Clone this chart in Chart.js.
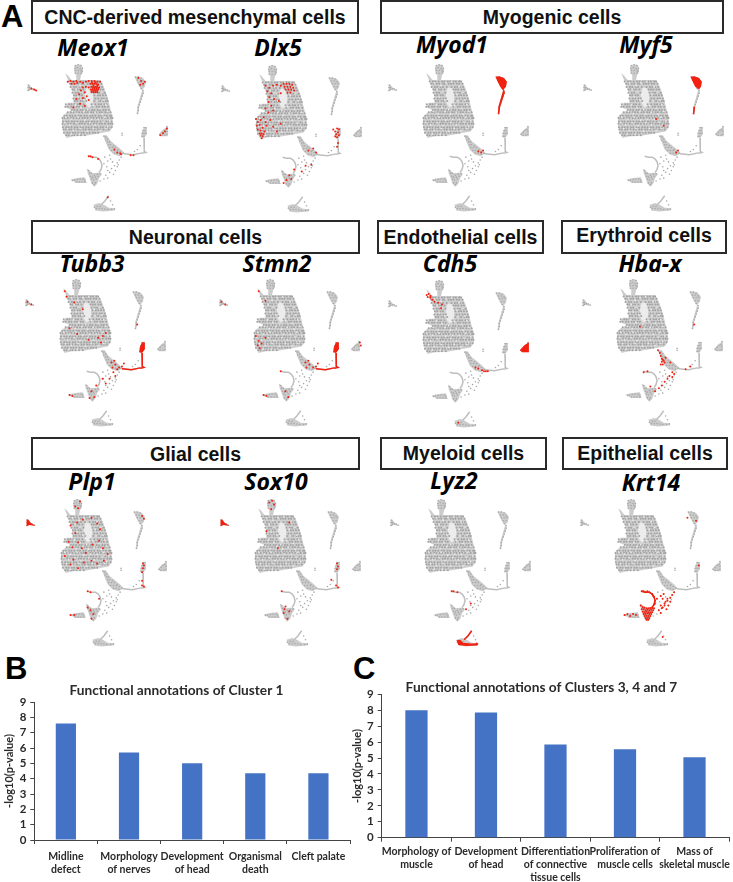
<!DOCTYPE html>
<html>
<head>
<meta charset="utf-8">
<script src="https://cdn.jsdelivr.net/npm/chart.js@4"></script>
<style>
  html, body { margin: 0; padding: 0; background: #fff; }
  #page { position: relative; width: 733px; height: 882px; overflow: hidden; }
  canvas { position: absolute; }
  .head { position: absolute; box-sizing: border-box; border: 2px solid #2a2a2a; background: #fff;
    font: bold 19.5px "Liberation Sans", sans-serif; color: #111; text-align: center; }
  .gene { position: absolute; width: 120px; text-align: center; color: #000;
    font: italic bold 23px "Noto Sans", sans-serif; }
  .letter { position: absolute; color: #000; font: bold 31px "Liberation Sans", sans-serif; }
</style>
</head>
<body>
<div id="page"></div>
<script>
// grey cells, in pixels of the Meox1 panel. rows are [y, x, x, x...]
const blobRows = [
  [78.5, 67, 70.5, 73, 76.5, 80, 82.5, 86, 88.5, 92, 94.5, 98, 100],
  [81, 68.5, 71, 74.5, 77, 81, 83, 87, 89.5, 92, 95.5, 98, 101.5],
  [84.5, 69, 72.5, 75, 78.5, 81, 85, 90, 93.5, 96, 99, 102],
  [87, 71, 73, 76.5, 79, 82.5, 92, 94.5, 97, 100.5, 103],
  [90.5, 71, 74.5, 77, 80, 83.5, 93, 96.5, 99, 102.5, 105],
  [93, 72.5, 75, 78.5, 81, 94, 97.5, 100, 103, 106],
  [96.5, 72, 75.5, 78, 81.5, 84, 95, 98, 101.5, 104, 107],
  [99, 73.5, 76, 79.5, 82, 85.5, 94, 97.5, 100, 103.5, 106, 108],
  [102.5, 64, 67.5, 70, 73, 76.5, 79, 82.5, 91, 95, 98.5, 101, 104.5, 107],
  [105, 63.5, 66, 69.5, 72, 75.5, 78, 81.5, 84, 92, 96.5, 99, 102.5, 105, 108.5],
  [108.5, 70.5, 73, 76, 79.5, 82, 85.5, 88, 91.5, 94, 97.5, 100, 103.5, 106, 109],
  [111, 66, 69.5, 72, 75.5, 78, 81, 84.5, 87, 90.5, 93, 96, 99.5, 102, 105.5, 108, 111],
  [114.5, 62.5, 65, 68.5, 71, 74, 77.5, 80, 83.5, 86, 89.5, 92, 95, 98.5, 101, 104.5, 107, 110.5, 112],
  [117, 60.5, 63, 66, 69.5, 72, 75.5, 78, 81.5, 84, 87, 90.5, 93, 96.5, 99, 102, 105.5, 108, 111.5, 113],
  [120.5, 61, 64.5, 67, 70.5, 73, 76, 79.5, 82, 85.5, 88, 91.5, 94, 97, 100.5, 103, 106.5, 109, 112],
  [123, 60.5, 63, 66.5, 69, 72.5, 75, 78.5, 81, 84, 87.5, 90, 93.5, 96, 99.5, 102, 105, 108.5, 111, 113],
  [126.5, 61, 64.5, 67, 70, 73.5, 76, 79.5, 82, 85.5, 88, 91, 94.5, 97, 100.5, 103, 106.5, 109, 112],
  [129, 61.5, 64, 67.5, 70, 73, 76.5, 79, 82.5, 85, 88.5, 91, 94, 97.5, 100, 103.5, 106, 109],
  [132.5, 62, 65.5, 68, 71.5, 74, 77, 80.5, 83, 86.5, 89, 92.5, 95, 98],
  [135, 64.5, 67, 70.5, 73, 76.5, 80, 84],
];
// pale specks between the grey cells
const blobSpecks = [[72, 80], [79, 83], [84, 80], [90, 79], [98, 84], [75, 87], [80, 90], [96, 92], [102, 90], [77, 95], [83, 98], [97, 99], [104, 98], [74, 103], [80, 106], [87, 108], [93, 104], [100, 107], [106, 103], [71, 110], [76, 112], [83, 110], [89, 113], [95, 111], [102, 113], [108, 110], [64, 116], [70, 118], [77, 116], [84, 119], [91, 118], [98, 118], [105, 116], [110, 120], [63, 122], [68, 124], [75, 122], [81, 125], [89, 122], [95, 124], [103, 121], [108, 126], [66, 128], [72, 130], [79, 128], [87, 131], [93, 128], [100, 130], [106, 128], [70, 134], [78, 134]];
const cellTopLobe = [[74, 62], [77, 61], [80, 62], [73.5, 65], [76, 64], [79, 65], [81.5, 65], [74, 67], [77, 67], [80, 67], [81, 68], [74, 70], [77, 70], [80, 70]];
const cellFarLeft = [[25, 82.5], [24.5, 85], [26, 85], [24.5, 88], [26, 87], [28, 86], [30, 86.5], [32, 87.5]];
const cellRightLobe = [[137, 74], [140, 74], [143, 75], [139, 77], [142, 77], [145, 78], [140, 80], [143, 80], [146, 80], [142, 83], [145, 83]];
const cellRightTail = [[143, 86], [145, 88], [145, 91], [144, 94], [143, 97], [142, 100], [141, 103], [140, 106], [140, 109], [139, 112]];
const cellMiddle = [[104, 136], [106, 137], [106, 140], [108, 139], [108, 142], [110, 142], [109, 145], [111, 145], [114, 146], [110, 148], [113, 148], [116, 148], [119, 150], [112, 151], [115, 151], [118, 151], [121, 152], [115, 154], [118, 154], [121, 155], [124, 154]];
const cellSparse = [[122, 158], [120, 161], [118, 164], [115, 167], [118, 168], [112, 170], [116, 172], [110, 174], [114, 176], [108, 172], [106, 177], [108, 180], [104, 165], [108, 162], [111, 160], [104, 181], [100, 183], [119, 166], [105, 158], [110, 156], [107, 168], [113, 163], [123, 133], [123, 135], [139, 150], [136, 152], [142, 146], [111, 204], [113, 208]];
const cellLowerLeft = [[88, 172], [89, 175], [91, 175], [94, 177], [97, 176], [100, 175.5], [90, 178], [92, 179], [95, 179], [98, 178], [91, 181], [93, 182], [96, 181], [92, 185], [95, 185], [94, 187]];
const cellTail = [[71, 182.5], [73, 182], [76, 181.5], [79, 181], [82, 181], [84, 182], [75, 184], [78, 184], [81, 184], [84, 184]];
const cellBottom = [[94, 210.5], [97, 209.5], [100, 209.5], [96, 212], [99, 212], [102, 212], [105, 212.5], [108, 213], [112, 213], [115, 212.5]];
const cellArc = [[88, 157], [92, 158], [96, 158], [99, 160], [101, 163], [102, 167], [101, 171], [99, 174]];
const cellLoop = [[170, 126], [169, 129], [170, 131], [167, 130], [165, 132], [163, 134], [165, 135], [168, 135], [170, 134]];
const cellLowerLobe = [[146, 127], [148, 127], [145, 130], [147, 130], [144, 133], [146, 133], [148, 133], [144, 136], [146, 136]];

// outlines of the dense parts, filled under the dots
const shapeBlob = [[67, 77], [100, 77], [104, 84], [108, 96], [111, 108], [113, 116], [113.5, 126], [110, 131], [100, 133], [85, 135.5], [72, 136], [65, 138], [62, 133], [60, 124], [60, 116], [64, 112], [70, 108.5], [63, 105.5], [66, 101], [72, 101], [72, 92], [69, 84], [67, 77]];
const shapeHole = [[86, 85], [91, 86], [93, 92], [92, 103], [88, 106], [85, 102], [84, 92], [86, 85]];
const shapeSpike = [[63.5, 70], [66, 72], [71, 78], [67, 78.5], [63.5, 70]];
const shapeTopLobe = [[73, 63], [76, 60.5], [80, 61], [82, 64], [82, 69], [80, 72], [79, 77], [75, 77], [75, 72], [73, 69], [73, 63]];
const shapeFarLeft = [[24, 81.5], [26, 82], [28, 85], [33.5, 88.5], [27, 87.5], [23.5, 89], [24, 81.5]];
const shapeRightLobe = [[136, 73.5], [140, 73], [145, 75], [148, 79], [147, 84], [144.5, 87], [146, 90], [144, 96], [141, 105], [140, 113], [138.5, 113], [139, 105], [142, 95], [144, 88], [141, 84], [138, 78], [136, 73.5]];
const shapeMyf5Lobe = [[136, 73.5], [140, 73], [145, 75], [148, 79], [147, 84], [145, 87], [141, 84], [138, 78], [136, 73.5]];
const shapeMyf5Tail = [[141, 105], [140, 113], [138.5, 113], [139, 105], [141, 105]];
const shapeLoop = [[171, 125.5], [171, 136], [164, 136], [161.5, 134], [166, 129], [171, 125.5]];
const shapeLowerLobe = [[146, 126.5], [149, 127], [149, 134], [146, 138], [143, 137], [144, 131], [146, 126.5]];
const shapeMiddle = [[103, 135], [107, 135], [111, 141], [116, 145], [122, 150], [126, 154], [120, 157], [114, 155], [109, 150], [106, 143], [103, 135]];
const shapeLowerLeft = [[86, 170], [89, 172], [92, 175], [100, 174], [102, 176], [99, 180], [97, 186], [94, 189], [91, 186], [89, 180], [87, 175], [86, 170]];
const shapeTail = [[69, 181.5], [76, 180], [84, 179], [86, 185], [75, 185], [69, 181.5]];
const shapeBottom = [[93, 208], [99, 206], [104, 208], [109, 211], [116, 211.5], [115, 214], [103, 215], [95, 214], [93, 208]];
const shapeLyzCrescent = [[93, 208.5], [97, 208], [100, 211], [108, 212], [116, 212], [115, 214], [103, 214.5], [95, 213.5], [93, 208.5]];

// thin strands
const lineStem = [[146, 138], [146.5, 146], [146, 152], [148, 153], [144, 154]];
const lineBranch = [[125, 154.5], [135, 155.5], [144, 153.5]];
const lineArc = [[88, 157], [92, 158], [96, 158], [99, 160], [101, 163], [102, 167], [101, 171], [99, 174]];
const lineBottomSpike = [[101, 208], [105, 204], [109, 198.5]];

// red cells of each gene
const meox1 = [[66, 79], [69, 78], [72, 79], [75, 78], [70, 81], [73, 81], [76, 80], [79, 79], [82, 80], [85, 79], [88, 78], [91, 78], [94, 78], [97, 79], [100, 79], [90, 81], [91.5, 80], [92, 81], [93, 82.5], [94, 81], [95, 79.5], [96, 81], [97, 82.5], [98, 82], [91, 84], [92, 85.5], [93, 84], [94, 85.5], [95, 84], [96, 85.5], [97, 84], [98, 85.5], [99, 85], [90, 87], [91, 88.5], [92, 87], [93, 88.5], [94, 87], [95, 88.5], [96, 87], [97, 88.5], [98, 87], [91, 90], [93, 90], [95, 90], [97, 90], [88, 85], [85, 84], [82, 85], [80, 88], [84, 90], [78, 92], [86, 94], [82, 96], [88, 98], [75, 97], [79, 102], [84, 104], [72, 106], [140, 75], [143, 78], [145, 81], [147, 79], [142, 82], [28, 86], [31, 87], [33, 88], [170, 128], [168, 131], [166, 133], [163, 135], [121, 154], [122, 155], [118, 153], [132, 156], [135, 156], [90, 157], [88, 157], [92, 158], [98, 160], [115, 150], [108, 200]];
const dlx5 = [[89, 80], [92, 80], [95, 80], [98, 81], [90, 83], [93, 83], [96, 83], [99, 84], [91, 86], [94, 86], [97, 86], [100, 87], [93, 89], [96, 89], [70, 82], [74, 84], [78, 82], [82, 81], [86, 82], [72, 88], [76, 90], [74, 94], [79, 96], [73, 99], [76, 103], [70, 106], [73, 110], [78, 108], [84, 98], [86, 90], [60, 117], [62, 120], [65, 118], [68, 115], [70, 120], [61, 124], [64, 123], [67, 126], [71, 124], [62, 128], [65, 129], [69, 130], [64, 132], [66, 132], [68, 133], [65, 134], [67, 135], [66, 137], [75, 118], [78, 125], [82, 130], [86, 122], [141, 128], [145, 127], [147, 128], [143, 130], [146, 131], [144, 133], [147, 134], [143, 135], [145, 136], [146, 142], [145, 146], [120, 148], [123, 152], [115, 150], [108, 172], [112, 166], [118, 165], [97, 180], [92, 181], [95, 176], [89, 184], [100, 170]];
const myod1 = [[121, 153], [123, 151], [118, 152]];
const myf5 = [[121, 153], [123, 151], [108, 125], [100, 118]];
const tubb3 = [[122, 153], [125, 152], [127, 149], [118, 150], [115, 153], [120, 155], [114, 148], [117, 146], [116, 158], [118, 162], [112, 165], [108, 170], [105, 165], [98, 172], [93, 178], [96, 184], [91, 185], [70, 182], [73, 183], [26, 84], [30, 87], [65, 73], [67, 79], [75, 85], [84, 92], [100, 122], [105, 120], [108, 117], [103, 127], [90, 124], [78, 118], [70, 112], [141, 108]];
const stmn2 = [[122, 153], [125, 152], [127, 149], [118, 150], [115, 153], [114, 148], [117, 146], [62, 120], [65, 125], [64, 130], [66, 133], [68, 128], [72, 122], [26, 84], [30, 87], [65, 73], [72, 83], [70, 182], [73, 183], [96, 184], [93, 178], [171, 127], [172, 130], [88, 157]];
const cdh5 = [[64, 76], [66, 75], [68, 77], [65, 78], [68, 79], [70, 81], [72, 83], [76, 84], [80, 86], [79, 90], [122, 155], [124, 156], [126, 156], [128, 156], [97, 210], [115, 152], [118, 153]];
const hbax = [[103, 135], [105, 138], [106, 141], [107, 144], [108, 145], [109, 146], [107, 147], [110, 148], [108, 150], [106, 150], [111, 143], [116, 148], [118, 158], [120, 160], [115, 162], [113, 165], [118, 163], [110, 168], [107, 172], [104, 175], [100, 178], [95, 173], [88, 158], [92, 157], [132, 155], [84, 110], [141, 108], [137, 152]];
const plp1 = [[75, 68], [78, 70], [80, 63], [70, 88], [77, 85], [83, 82], [92, 80], [98, 86], [101, 92], [75, 96], [78, 106], [68, 105], [72, 111], [82, 112], [86, 117], [93, 108], [100, 104], [104, 112], [109, 118], [105, 125], [98, 128], [92, 125], [84, 127], [73, 124], [64, 120], [70, 129], [78, 133], [145, 78], [147, 81], [146, 128], [147, 130], [146, 133], [145, 137], [145, 146], [145, 151], [147, 152], [88, 157], [91, 158], [100, 165], [88, 174], [91, 177], [94, 181], [92, 186], [70, 182], [74, 182]];
const sox10 = [[75, 64], [78, 62], [80, 66], [77, 71], [146, 128], [147, 131], [146, 134], [145, 151], [147, 153], [140, 145], [88, 157], [91, 176], [90, 180], [94, 186], [96, 178], [92, 173], [72, 94], [96, 85], [84, 112]];
const lyz2 = [[88, 157], [90, 157], [94, 158], [108, 170], [103, 176], [114, 212]];
const krt14 = [...cellArc, [90, 157], [94, 157], [100, 162], [102, 170], [87, 172], [89, 173.5], [91, 174], [93, 175], [95, 175], [97, 174.5], [99, 174.5], [101, 175], [88, 176], [90, 176], [92, 177], [94, 176.5], [96, 177], [98, 176.5], [100, 177], [89, 178.5], [91, 179], [93, 178.5], [95, 179], [97, 179], [99, 179], [90, 181], [92, 181], [94, 180.5], [96, 181], [98, 181], [91, 183], [93, 183], [95, 183], [97, 183], [92, 185], [94, 185], [96, 185], [93, 187], [95, 187], [122, 158], [120, 161], [118, 164], [115, 167], [118, 168], [112, 170], [116, 172], [110, 174], [114, 176], [108, 172], [106, 177], [108, 180], [104, 165], [108, 162], [111, 160], [110, 165], [113, 168], [115, 165], [109, 175], [112, 172], [70, 182], [73, 181], [76, 183], [79, 181], [82, 182], [136, 80], [145, 83], [148, 130], [110, 205]];

// bar charts
const clusterOneLabels = [["Midline", "defect"], ["Morphology", "of nerves"], ["Development", "of head"], ["Organismal", "death"], "Cleft palate"];
const clusterOneValues = [7.6, 5.7, 5.0, 4.35, 4.35];
const clusterThreeLabels = [["Morphology of", "muscle"], ["Development", "of head"], ["Differentiation", "of connective", "tissue cells"], ["Proliferation of", "muscle cells"], ["Mass of", "skeletal muscle"]];
const clusterThreeValues = [8.0, 7.85, 5.85, 5.55, 5.05];
const yTicks = [0, 1, 2, 3, 4, 5, 6, 7, 8, 9];

const page = document.getElementById("page");

function addDiv(cls, text, left, top, width, height, lineHeight) {
  const d = document.createElement("div");
  d.className = cls;
  d.textContent = text;
  d.style.left = left + "px";
  d.style.top = top + "px";
  if (width) d.style.width = width + "px";
  if (height) d.style.height = height + "px";
  if (lineHeight) d.style.lineHeight = lineHeight + "px";
  page.appendChild(d);
}

function addCanvas(left, top, width, height) {
  const c = document.createElement("canvas");
  c.width = width;
  c.height = height;
  c.style.left = left + "px";
  c.style.top = top + "px";
  c.style.width = width + "px";
  c.style.height = height + "px";
  page.appendChild(c);
  return c;
}

// heads
addDiv("head", "CNC-derived mesenchymal cells", 31, 0, 328, 34, 30);
addDiv("head", "Myogenic cells", 380, 0, 344, 34, 30);
addDiv("head", "Neuronal cells", 31, 220, 329, 34, 30);
addDiv("head", "Endothelial cells", 377, 220, 167, 34, 31);
addDiv("head", "Erythroid cells", 561, 220, 166, 34, 27);
addDiv("head", "Glial cells", 31, 437, 329, 33, 30);
addDiv("head", "Myeloid cells", 380, 437, 167, 33, 28);
addDiv("head", "Epithelial cells", 562, 437, 166, 33, 28);

addDiv("letter", "A", 1, -1);
addDiv("letter", "B", 5, 651);
addDiv("letter", "C", 353, 651);

const blobCells = blobRows.flatMap((r) => r.slice(1).map((x) => [x, r[0]]));
const thinCells = [...cellTopLobe, ...cellFarLeft, ...cellRightLobe, ...cellRightTail, ...cellLoop, ...cellLowerLobe, ...cellMiddle, ...cellSparse, ...cellLowerLeft, ...cellTail, ...cellBottom];
const greyShapes = [shapeSpike, shapeTopLobe, shapeFarLeft, shapeRightLobe, shapeLoop, shapeLowerLobe, shapeMiddle, shapeLowerLeft, shapeTail, shapeBottom];
const greyLines = [lineStem, lineBranch, lineArc, lineBottomSpike];

function shapeSet(points, color) {
  return { data: points, showLine: true, fill: "shape", backgroundColor: color, borderWidth: 0, borderColor: color, pointRadius: 0 };
}

function lineSet(points, color) {
  return { data: points, showLine: true, fill: false, borderColor: color, borderWidth: 1.5, pointRadius: 0 };
}

function mapChart(name, cells, dx, dy, labelX, labelTop, redShapes = [], redLines = []) {
  addDiv("gene", name, labelX - 60, labelTop);
  new Chart(addCanvas(dx + 15, dy + 55, 175, 170), {
    type: "scatter",
    data: {
      datasets: [
        ...redLines.map((l) => lineSet(l, "#f3200f")),
        ...redShapes.map((s) => shapeSet(s, "#f3200f")),
        { label: name, data: cells, backgroundColor: "#f3200f", pointRadius: 1, borderWidth: 0 },
        { label: "specks", data: blobSpecks, backgroundColor: "#e8e8e8", pointRadius: 0.9, borderWidth: 0 },
        { label: "cells", data: thinCells, backgroundColor: "#a8a8a8", pointRadius: 0.8, borderWidth: 0 },
        { label: "cells", data: blobCells, backgroundColor: "#a2a2a2", pointRadius: 1, borderWidth: 0 },
        ...greyLines.map((l) => lineSet(l, "#bebebe")),
        shapeSet(shapeHole, "#ececec"),
        ...greyShapes.map((s) => shapeSet(s, "#cccccc")),
        shapeSet(shapeBlob, "#d0d0d0"),
      ],
    },
    options: {
      responsive: false,
      animation: false,
      plugins: { legend: { display: false }, tooltip: { enabled: false } },
      scales: {
        x: { display: false, min: 15, max: 190 },
        y: { display: false, min: 55, max: 225, reverse: true },
      },
    },
  });
}

mapChart("Meox1", meox1, 0, 0, 93, 31);
mapChart("Dlx5", dlx5, 194, 1, 278, 31);
mapChart("Myod1", myod1, 361, 0, 452, 28, [shapeRightLobe]);
mapChart("Myf5", myf5, 556, 0, 646, 28, [shapeMyf5Lobe, shapeMyf5Tail]);
mapChart("Tubb3", tubb3, -2, 215, 92, 247, [shapeLowerLobe], [lineStem, lineBranch]);
mapChart("Stmn2", stmn2, 192, 215, 277, 247, [shapeLowerLobe], [lineStem, lineBranch]);
mapChart("Cdh5", cdh5, 361, 216, 450, 247, [shapeLoop]);
mapChart("Hba-x", hbax, 555, 215, 650, 247);
mapChart("Plp1", plp1, -1, 435, 92, 465, [shapeFarLeft]);
mapChart("Sox10", sox10, 193, 435, 276, 465, [shapeFarLeft]);
mapChart("Lyz2", lyz2, 363, 435, 454, 464, [shapeLyzCrescent], [lineBottomSpike]);
mapChart("Krt14", krt14, 553, 435, 651, 466, [], [lineArc]);

function barChart(canvas, title, labels, values, areaLeft, xHeight, padRight, titleTop, titleBottom, tickPad) {
  new Chart(canvas, {
    type: "bar",
    data: {
      labels: labels,
      datasets: [{ data: values, backgroundColor: "#4472c4", barPercentage: 0.32, categoryPercentage: 1 }],
    },
    options: {
      responsive: false,
      animation: false,
      layout: { padding: { left: 3, right: padRight } },
      plugins: {
        legend: { display: false },
        tooltip: { enabled: false },
        title: {
          display: true,
          text: title,
          color: "#2a2a2a",
          font: { family: "Lato", weight: "bold", size: 13.7, lineHeight: 1 },
          padding: { top: titleTop, bottom: titleBottom },
        },
      },
      scales: {
        x: {
          border: { color: "#444" },
          grid: { drawOnChartArea: false, color: "#444", tickLength: 4 },
          ticks: { color: "#2a2a2a", font: { family: "Lato", weight: "bold", size: 10.5, lineHeight: 1.25 }, maxRotation: 0, autoSkip: false, padding: tickPad },
          afterFit: (s) => { s.height = xHeight; },
        },
        y: {
          min: 0,
          max: 9,
          border: { color: "#444" },
          grid: { drawOnChartArea: false, color: "#444", tickLength: 4 },
          afterBuildTicks: (s) => { s.ticks = yTicks.map((v) => ({ value: v })); },
          ticks: { color: "#2a2a2a", font: { family: "Lato", weight: "bold", size: 11.5 }, padding: 4, autoSkip: false },
          title: { display: true, text: "-log10(p-value)", color: "#2a2a2a", font: { family: "Lato", weight: "bold", size: 11 }, padding: 0 },
          afterFit: (s) => { s.width = areaLeft - 3; },
        },
      },
    },
  });
}

barChart(addCanvas(0, 680, 358, 202), "Functional annotations of Cluster 1", clusterOneLabels, clusterOneValues, 34.3, 42, 8, 4, 4.3, 6);
barChart(addCanvas(348, 670, 385, 212), "Functional annotations of Clusters 3, 4 and 7", clusterThreeLabels, clusterThreeValues, 33.7, 44.3, 1.3, 10.5, 0.1, 3);
</script>
</body>
</html>
